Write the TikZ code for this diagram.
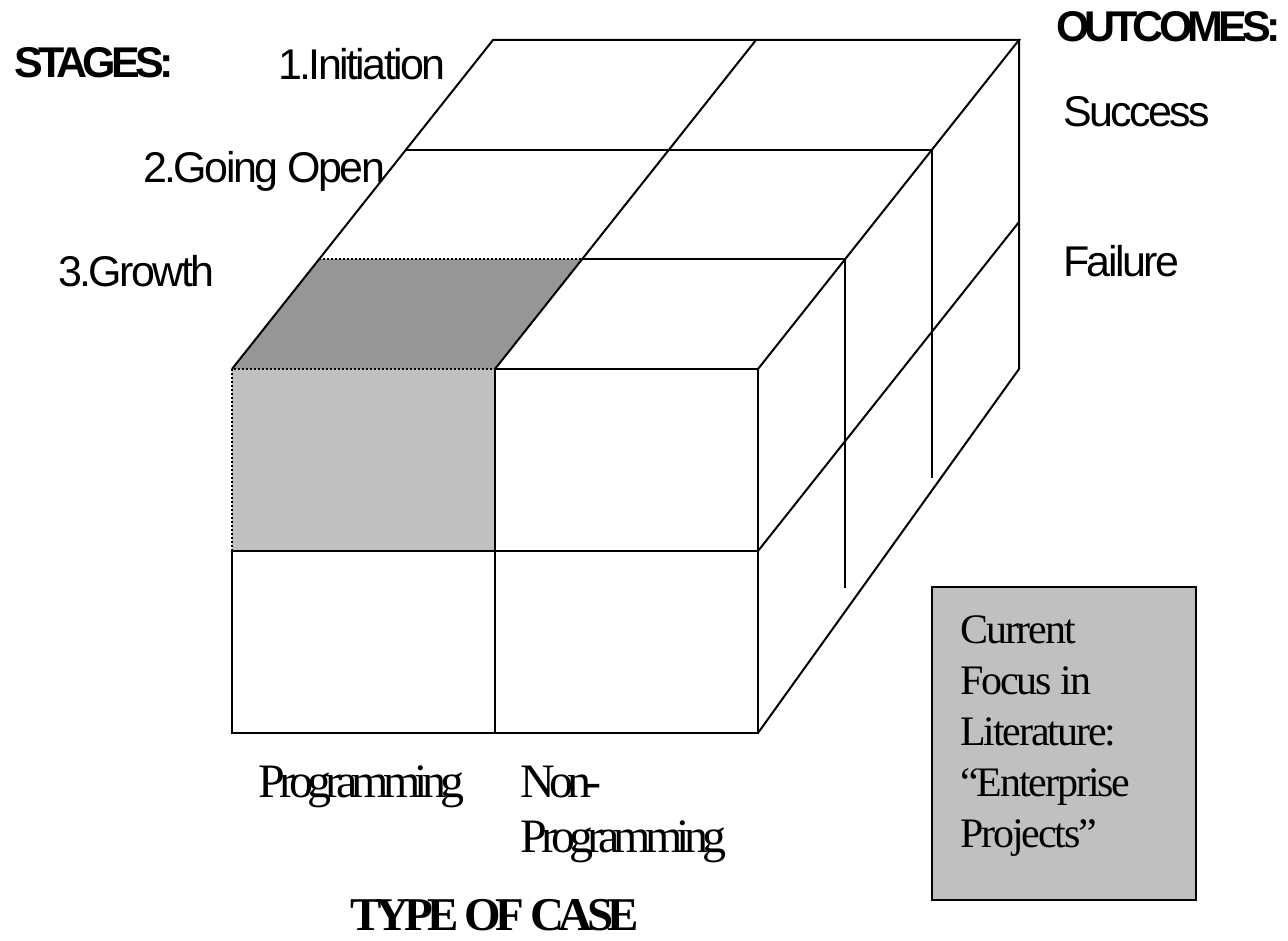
\documentclass[tikz,border=0pt]{standalone}
\usepackage{fontspec}
\setmainfont{Liberation Serif}
\newfontfamily\sanstight[LetterSpace=-6]{Liberation Sans}
\newfontfamily\headtight[LetterSpace=-11]{Liberation Sans}
\newfontfamily\seriftight[LetterSpace=-12]{Liberation Serif}
\newfontfamily\boxtight[LetterSpace=-5]{Liberation Serif}
\usetikzlibrary{positioning}
\definecolor{darkcell}{HTML}{969696}
\definecolor{lightcell}{HTML}{C0C0C0}

\begin{document}
\begin{tikzpicture}[x=1pt,y=-1pt,line join=miter]
\tikzstyle{edge}=[line width=2pt]
\tikzstyle{rim}=[line width=2pt,dotted]
\tikzstyle{stage}=[anchor=base west,inner sep=0pt,font=\sanstight\fontsize{43}{50}\selectfont]
\tikzstyle{head}=[anchor=base west,inner sep=0pt,font=\headtight\bfseries\fontsize{43}{50}\selectfont]
\tikzstyle{kind}=[anchor=north west,inner sep=0pt,align=left,font=\seriftight\fontsize{48}{55}\selectfont]
\useasboundingbox (0,0) rectangle (1288,941);
% corners of the cube
\coordinate (f1) at (232,369); \coordinate (f2) at (495,369); \coordinate (f3) at (758,369);
\coordinate (m1) at (232,551); \coordinate (m2) at (495,551); \coordinate (m3) at (758,551);
\coordinate (b1) at (232,733); \coordinate (b2) at (495,733); \coordinate (b3) at (758,733);
\coordinate (g1) at (319,259); \coordinate (g2) at (582,259); \coordinate (g3) at (845,259);
\coordinate (o1) at (406,150); \coordinate (o3) at (932,150);
\coordinate (i1) at (493,40); \coordinate (i2) at (756,40); \coordinate (i3) at (1019,40);
\coordinate (s3) at (1019,222); \coordinate (r3) at (1019,369);
\coordinate (g4) at (845,588); \coordinate (o4) at (932,478);
% shaded cells
\fill[darkcell] (f1) -- (f2) -- (g2) -- (g1) -- cycle;
\fill[lightcell] (f1) rectangle (m2);
% front face
\draw[edge] (m1) -- (b1) -- (b3) -- (f3) -- (f2);
\draw[edge] (f2) -- (b2); \draw[edge] (m1) -- (m3);
\draw[rim] (m1) -- (f1) -- (f2);
% top face
\draw[edge] (f1) -- (i1) -- (i3) -- (f3);
\draw[edge] (f2) -- (i2);
\draw[rim] (g1) -- (g2); \draw[edge] (g2) -- (g3);
\draw[edge] (o1) -- (o3);
% right face
\draw[edge] (i3) -- (r3) -- (b3);
\draw[edge] (m3) -- (s3);
\draw[edge] (g3) -- (g4); \draw[edge] (o3) -- (o4);
% labels
\node[head] (stages) at (14,78) {STAGES:};
\node[stage] (init) at (278,80) {1.Initiation};
\node[stage] (open) at (143,183) {2.Going Open};
\node[stage] (grow) at (58,287) {3.Growth};
\node[head] (outc) at (1056,42) {OUTCOMES:};
\node[stage] (succ) at (1063,127) {Success};
\node[stage] (fail) at (1063,277) {Failure};
\node[kind] (prog) at (258,766) {Programming};
\node[kind] (nonprog) at (520,766) {Non-\\Programming};
\node[anchor=base west,inner sep=0pt,font=\seriftight\bfseries\fontsize{47}{55}\selectfont] (type) at (350,930) {TYPE OF CASE};
% focus box
\draw[line width=2.5pt,fill=lightcell] (932,587) rectangle (1196,900);
\node[anchor=north west,inner sep=0pt,align=left,font=\boxtight\fontsize{42}{51}\selectfont] (focus) at (960,615)
  {Current\\Focus in\\Literature:\\“Enterprise\\Projects”};
\end{tikzpicture}
\end{document}
